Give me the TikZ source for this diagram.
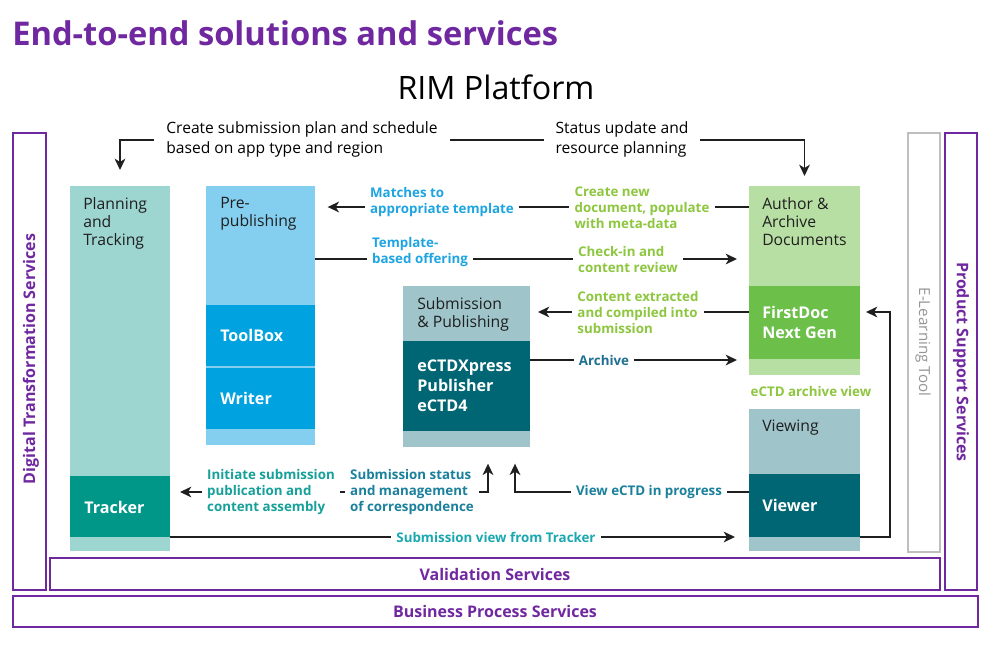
\documentclass[tikz,border=0pt]{standalone}
\usepackage{fontspec}
\setmainfont{Open Sans}
\usetikzlibrary{arrows.meta,fit,calc}
\definecolor{purp}{RGB}{112,40,160}
\definecolor{tealL}{RGB}{157,213,208}
\definecolor{tealD}{RGB}{0,150,136}
\definecolor{blueL}{RGB}{132,207,240}
\definecolor{blueD}{RGB}{0,163,224}
\definecolor{grayT}{RGB}{159,197,203}
\definecolor{petrol}{RGB}{0,102,115}
\definecolor{greenL}{RGB}{184,223,163}
\definecolor{greenD}{RGB}{108,192,74}
\definecolor{lblue}{RGB}{30,165,225}
\definecolor{lgreen}{RGB}{141,198,63}
\definecolor{lteal}{RGB}{22,160,154}
\definecolor{lteal2}{RGB}{26,168,176}
\definecolor{lpetrol}{RGB}{26,128,156}
\definecolor{larch}{RGB}{31,111,144}
\definecolor{ltgray}{RGB}{190,190,190}
\definecolor{txtgray}{RGB}{150,150,150}
\newcommand\fsz[2]{\fontsize{#1}{#2}\selectfont}
\tikzset{
  box/.style={inner sep=0pt, outer sep=0pt, draw=none},
  hdr/.style={anchor=north west, align=left, font=\fsz{11.8}{13.6}, text=black!88, inner sep=0pt},
  wlab/.style={anchor=west, align=left, font=\bfseries\fsz{12.1}{15}, text=white, inner sep=0pt},
  lab/.style={fill=white, align=left, font=\bfseries\fsz{10}{12}, inner xsep=4pt, inner ysep=1pt},
  toplab/.style={fill=white, align=left, font=\fsz{11.7}{15}, text=black, inner xsep=9pt, inner ysep=1pt},
  conn/.style={line width=1.3pt, draw=black!88},
  tip/.style={-{Stealth[length=8.5pt,width=8pt,inset=2.5pt]}},
  tips/.style={{Stealth[length=8.5pt,width=8pt,inset=2.5pt]}-{Stealth[length=8.5pt,width=8pt,inset=2.5pt]}},
  svc/.style={draw=purp, line width=1.2pt, inner sep=0pt, outer sep=0pt},
  svctext/.style={text=purp, font=\bfseries\fsz{12}{14}, inner sep=0pt}
}
\begin{document}
\begin{tikzpicture}[x=0.75pt,y=-0.75pt]
\useasboundingbox[fill=white] (0,0) rectangle (1000,654);

% titles
\node[anchor=base west, inner sep=0pt, text=purp, font=\bfseries\fsz{24.5}{28}] (title) at (12,45) {End-to-end solutions and services};
\node[inner sep=0pt, font=\fsz{24.2}{28}] (rim) at (496,87) {RIM Platform};

% service frames
\node[svc, fit={(13,133)(46,590)}] (dts) {};
\node[svctext, rotate=90] (tdts) at (31,359) {Digital Transformation Services};
\node[svc, fit={(945,133)(977,590)}] (pss) {};
\node[svctext, rotate=-90] (tpss) at (961,362) {Product Support Services};
\node[draw=ltgray, line width=1.2pt, inner sep=0pt, fit={(908,133)(940,552)}] (elt) {};
\node[text=txtgray, font=\fsz{11.4}{13}, inner sep=0pt, rotate=-90] (telt) at (923,342) {E-Learning Tool};
\node[svc, fit={(50,558)(940,590)}] (val) {};
\node[svctext] (tval) at (495,574) {Validation Services};
\node[svc, fit={(13,596)(978,627)}] (bps) {};
\node[svctext] (tbps) at (495,611) {Business Process Services};

% columns
\node[box, fill=tealL, fit={(70,186)(170,551)}] (plan) {};
\node[box, fill=tealD, fit={(70,476)(170,537)}] (tracker) {};
\node[box, fill=blueL, fit={(206,186)(315,445)}] (prepub) {};
\node[box, fill=blueD, fit={(206,305)(315,366)}] (toolbox) {};
\node[box, fill=blueD, fit={(206,368)(315,429)}] (writer) {};
\node[box, fill=grayT, fit={(403,286)(530,447)}] (subpub) {};
\node[box, fill=petrol, fit={(403,341)(530,431)}] (ectd) {};
\node[box, fill=greenL, fit={(749,186)(860,375)}] (author) {};
\node[box, fill=greenD, fit={(749,286)(860,359)}] (firstdoc) {};
\node[box, fill=grayT, fit={(749,409)(860,551)}] (viewing) {};
\node[box, fill=petrol, fit={(749,474)(860,537)}] (viewer) {};

\node[hdr] (tplan) at (83,197) {Planning\\and\\Tracking};
\node[wlab] (ttracker) at (84,507) {Tracker};
\node[hdr] (tprepub) at (220,197) {Pre-\\publishing};
\node[wlab] (ttoolbox) at (220,335) {ToolBox};
\node[wlab] (twriter) at (220,398) {Writer};
\node[hdr] (tsubpub) at (417,297) {Submission\\\& Publishing};
\node[wlab] (tectd) at (417,386) {eCTDXpress\\Publisher\\eCTD4};
\node[hdr] (tauthor) at (762,197) {Author \&\\Archive\\Documents};
\node[wlab] (tfirst) at (762,322) {FirstDoc\\Next Gen};
\node[hdr] (tviewing) at (762,420) {Viewing};
\node[wlab] (tviewer) at (762,505) {Viewer};

% helper coordinates
\coordinate (ytop) at (0,140);
\coordinate (y207) at (0,207);
\coordinate (y259) at (0,259);
\coordinate (y312) at (0,312);
\coordinate (y360) at (0,360);
\coordinate (y492) at (0,492);
\coordinate (x488) at (488,0);
\coordinate (x515) at (515,0);
\coordinate (x890) at (890,0);

% connectors
\draw[conn, tips, shorten <=12pt, shorten >=7.5pt] (plan.north) |- (plan.north |- ytop) -| (author.north);
\draw[conn, tip, shorten >=9.5pt] (author.west |- y207) -- (prepub.east |- y207);
\draw[conn, tip, shorten >=9pt] (prepub.east |- y259) -- (author.west |- y259);
\draw[conn, tip, shorten >=6pt] (firstdoc.west |- y312) -- (subpub.east |- y312);
\draw[conn, tip, shorten >=9pt] (ectd.east |- y360) -- (firstdoc.west |- y360);
\draw[conn, tip, shorten >=12.5pt] (viewer.west |- y492) -| (subpub.south -| x515);
\draw[conn, tips, shorten <=12.5pt, shorten >=7.5pt] (subpub.south -| x488) |- (tracker.east |- y492);
\draw[conn, tip, shorten >=10.5pt] (tracker.south east) -- (viewing.west |- tracker.south east);
\draw[conn, tip, shorten >=4.5pt] (viewer.south east) -| (x890 |- y312) -- (firstdoc.east |- y312);

% labels
\node[toplab] (l1) at (302,139) {Create submission plan and schedule\\based on app type and region};
\node[toplab] (l2) at (622,139) {Status update and\\resource planning};
\node[lab, text=lblue] (l3) at (442,202) {Matches to\\appropriate template};
\node[lab, text=lgreen] (l4) at (642,208) {Create new\\document, populate\\with meta-data};
\node[lab, text=lblue] (l5) at (420,252) {Template-\\based offering};
\node[lab, text=lgreen] (l6) at (628,259) {Check-in and\\content review};
\node[lab, text=lgreen] (l7) at (638,312) {Content extracted\\and compiled into\\submission};
\node[lab, text=larch] (l8) at (604,360) {Archive};
\node[lab, text=lgreen, fill=none] (l9) at (811,391) {eCTD archive view};
\node[lab, text=lpetrol] (l10) at (649,492) {View eCTD in progress};
\node[lab, text=lpetrol] (l11) at (412,492) {Submission status\\and management\\of correspondence};
\node[lab, text=lteal] (l12) at (271,492) {Initiate submission\\publication and\\content assembly};
\node[lab, text=lteal2] (l13) at (496,537) {Submission view from Tracker};
\end{tikzpicture}
\end{document}
